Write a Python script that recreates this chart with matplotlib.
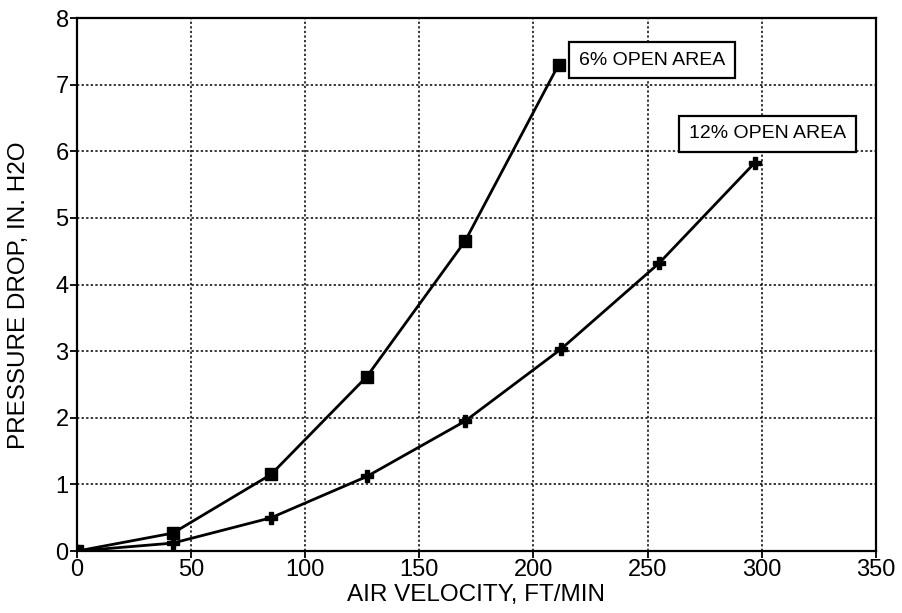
import matplotlib
matplotlib.use("Agg")
import matplotlib.pyplot as plt

plt.rcParams['font.family'] = ['Liberation Sans', 'DejaVu Sans']

x6 = [0, 42, 85, 127, 170, 211]
y6 = [0, 0.27, 1.15, 2.62, 4.65, 7.3]
x12 = [0, 42, 85, 127, 170, 212, 255, 297]
y12 = [0, 0.12, 0.5, 1.12, 1.95, 3.03, 4.32, 5.83]
label6 = "6% OPEN AREA"
label12 = "12% OPEN AREA"
xticks = [0, 50, 100, 150, 200, 250, 300, 350]
yticks = [0, 1, 2, 3, 4, 5, 6, 7, 8]

fig = plt.figure(figsize=(9.02, 6.13), dpi=100)
ax = fig.add_axes([0.0854, 0.101, 0.8856, 0.8696])

ax.plot(x6, y6, color='black', lw=2.0, marker='s', ms=9, mfc='black', mec='black', zorder=3)
ax.plot(x12, y12, color='black', lw=2.0, marker='P', ms=9, mfc='black', mec='black', zorder=3)

ax.set_xlim(0, 350)
ax.set_ylim(0, 8)
ax.set_xticks(xticks)
ax.set_yticks(yticks)
ax.tick_params(labelsize=17, direction='out', length=5, width=1.3, pad=1)
ax.grid(True, color='black', linestyle=(0, (1.5, 1.5)), lw=1.1)
for s in ax.spines.values():
    s.set_linewidth(1.6)

ax.set_xlabel("AIR VELOCITY, FT/MIN", fontsize=17.5, labelpad=2)
ax.set_ylabel("PRESSURE DROP, IN. H2O", fontsize=17.5)
ax.yaxis.set_label_coords(-0.059, 0.48)

bbox = dict(boxstyle='square,pad=0.5', fc='white', ec='black', lw=1.6)
ax.text(220, 7.37, label6, fontsize=14, va='center', ha='left', bbox=bbox, zorder=4)
ax.text(268, 6.26, label12, fontsize=14, va='center', ha='left', bbox=bbox, zorder=4)

fig.savefig("out.png", dpi=100)
